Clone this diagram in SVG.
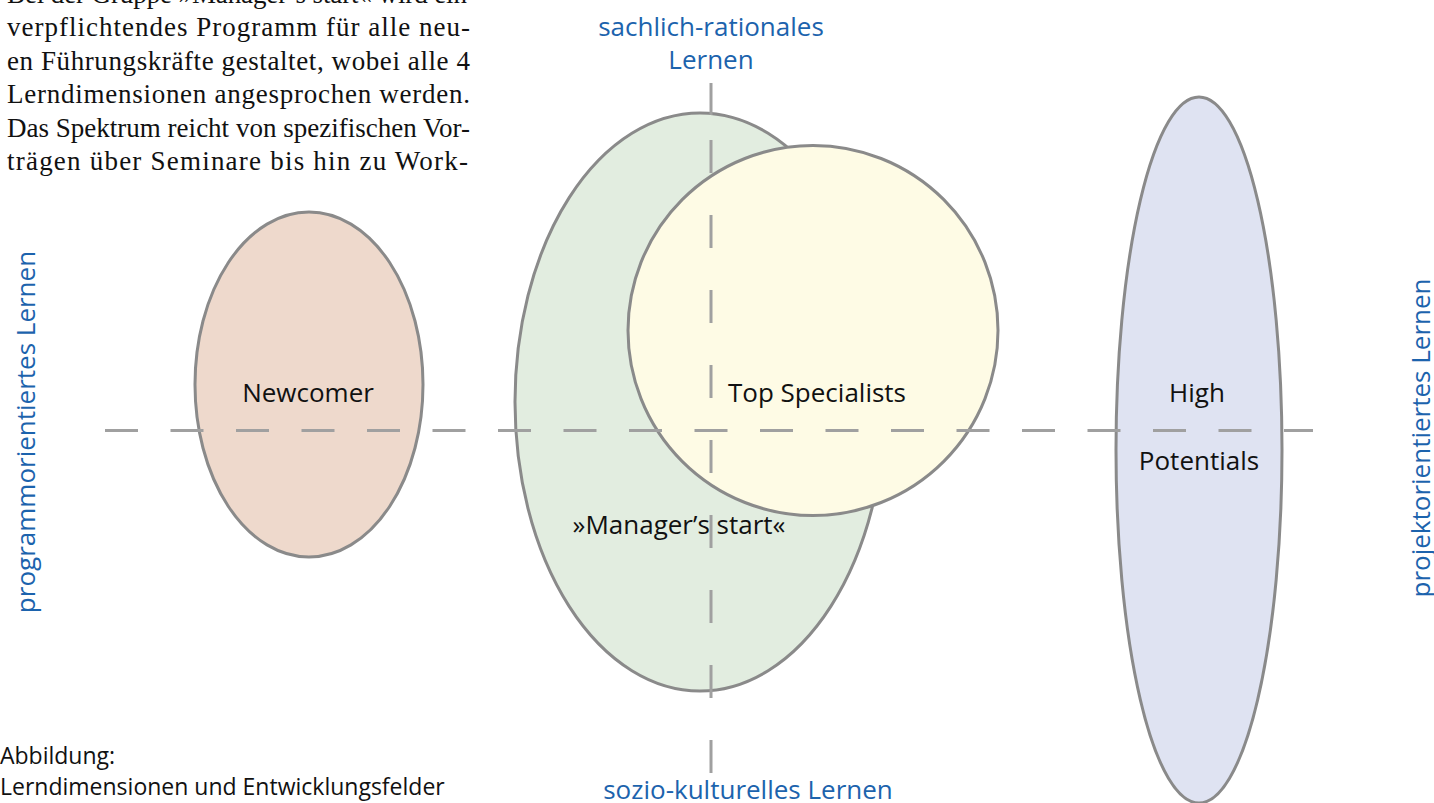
<svg xmlns="http://www.w3.org/2000/svg" width="1434" height="803" viewBox="0 0 1434 803">
<style>
.node{stroke:#8a8a8a;stroke-width:3}
.axis{stroke:#a0a0a0;stroke-width:3;fill:none}
.lbl{font-family:"Open Sans","Noto Sans",sans-serif;font-size:26px;fill:#111;text-anchor:middle}
.cap{font-family:"Open Sans","Noto Sans",sans-serif;font-size:23px;fill:#111}
.dim{font-family:"Open Sans","Noto Sans",sans-serif;font-size:26px;fill:#1c63ad;text-anchor:middle}
.body{font-family:"Liberation Serif","Times New Roman",serif;font-size:27px;fill:#111}
</style>
<rect width="1434" height="803" fill="#ffffff"/>
<g id="paragraph">
<text class="body" x="7" y="3" textLength="460" lengthAdjust="spacing">Bei der Gruppe »Manager’s start« wird ein</text>
<text class="body" x="7" y="36" textLength="463" lengthAdjust="spacing">verpflichtendes Programm für alle neu-</text>
<text class="body" x="7" y="69.5" textLength="463" lengthAdjust="spacing">en Führungskräfte gestaltet, wobei alle 4</text>
<text class="body" x="7" y="103" textLength="463" lengthAdjust="spacing">Lerndimensionen angesprochen werden.</text>
<text class="body" x="7" y="136.5" textLength="463" lengthAdjust="spacing">Das Spektrum reicht von spezifischen Vor-</text>
<text class="body" x="7" y="170" textLength="461" lengthAdjust="spacing">trägen über Seminare bis hin zu Work-</text>
</g>
<g id="newcomer">
<ellipse class="node" cx="309" cy="384.5" rx="114" ry="172.5" fill="#eed9cc"/>
</g>
<g id="managers-start">
<ellipse class="node" cx="700" cy="402" rx="185" ry="289" fill="#e2ede0"/>
</g>
<g id="top-specialists">
<circle class="node" cx="813" cy="330.5" r="185" fill="#fefbe5"/>
</g>
<g id="high-potentials">
<ellipse class="node" cx="1199" cy="450" rx="83" ry="353" fill="#dfe3f2"/>
</g>
<g id="connectors">
<line class="axis" x1="105" y1="430.5" x2="1313" y2="430.5" stroke-dasharray="33 32.5"/>
<line class="axis" x1="711" y1="83" x2="711" y2="115"/>
<line class="axis" x1="711" y1="140" x2="711" y2="773" stroke-dasharray="33 42"/>
</g>
<g id="labels">
<text class="lbl" x="308" y="402">Newcomer</text>
<text class="lbl" x="817" y="402">Top Specialists</text>
<text class="lbl" x="679" y="534">»Manager’s start«</text>
<text class="lbl" x="1197" y="402">High</text>
<text class="lbl" x="1199" y="470">Potentials</text>
<text class="dim" x="711" y="36">sachlich-rationales</text>
<text class="dim" x="711" y="69">Lernen</text>
<text class="dim" x="748" y="799">sozio-kulturelles Lernen</text>
<text class="dim" transform="translate(35,432) rotate(-90)">programmorientiertes Lernen</text>
<text class="dim" transform="translate(1430,438) rotate(-90)">projektorientiertes Lernen</text>
<text class="cap" x="0" y="764">Abbildung:</text>
<text class="cap" x="0" y="795">Lerndimensionen und Entwicklungsfelder</text>
</g>
</svg>
